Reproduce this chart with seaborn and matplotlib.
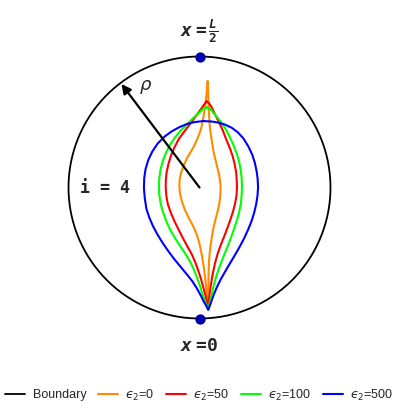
import numpy as np
import matplotlib
matplotlib.use("Agg")
import matplotlib.pyplot as plt
import seaborn as sns

# outlines (unit circle = boundary), going round: top -> left side -> tip -> right side -> top
eps_labels = [r"$ϵ_2$=0", r"$ϵ_2$=50", r"$ϵ_2$=100", r"$ϵ_2$=500"]
eps_colors = ["darkorange", "red", "lime", "blue"]

x_eps0 = [0.062, 0.058, 0.052, 0.045, 0.037, 0.025, 0.010, -0.015, -0.040, -0.065, -0.095, -0.120, -0.140,
          -0.151, -0.154, -0.149, -0.135, -0.111, -0.080, -0.047, -0.020, -0.001, 0.013, 0.024, 0.034, 0.042,
          0.049, 0.055, 0.061, 0.067,
          0.067, 0.067, 0.068, 0.068, 0.070, 0.073, 0.078, 0.085, 0.095, 0.106, 0.122, 0.139, 0.152, 0.159,
          0.161, 0.157, 0.149, 0.136, 0.122, 0.108, 0.098, 0.089, 0.080, 0.075, 0.072, 0.069, 0.067, 0.065, 0.062]
y_eps0 = [0.811, 0.760, 0.700, 0.640, 0.580, 0.510, 0.440, 0.375, 0.320, 0.275, 0.225, 0.170, 0.115,
          0.060, 0.010, -0.045, -0.105, -0.172, -0.235, -0.299, -0.362, -0.426, -0.490, -0.554, -0.618, -0.681,
          -0.745, -0.808, -0.870, -0.930,
          -0.870, -0.820, -0.760, -0.700, -0.630, -0.560, -0.500, -0.440, -0.375, -0.310, -0.245, -0.180, -0.120, -0.060,
          0.000, 0.050, 0.100, 0.155, 0.210, 0.270, 0.330, 0.390, 0.450, 0.515, 0.580, 0.640, 0.700, 0.760, 0.811]

x_eps50 = [0.055, 0.040, 0.017, -0.020, -0.065, -0.110, -0.158, -0.192, -0.218, -0.237, -0.251, -0.257, -0.258,
           -0.253, -0.242, -0.220, -0.193, -0.162, -0.130, -0.095, -0.060, -0.032, -0.009, 0.012, 0.029, 0.045,
           0.057, 0.067,
           0.070, 0.076, 0.084, 0.094, 0.106, 0.120, 0.138, 0.160, 0.186, 0.210, 0.233, 0.254, 0.271, 0.282, 0.286,
           0.284, 0.280, 0.268, 0.252, 0.230, 0.203, 0.178, 0.150, 0.120, 0.093, 0.072, 0.055]
y_eps50 = [0.658, 0.640, 0.607, 0.555, 0.495, 0.435, 0.370, 0.305, 0.243, 0.180, 0.116, 0.055, 0.000,
           -0.065, -0.126, -0.190, -0.253, -0.317, -0.380, -0.445, -0.508, -0.572, -0.635, -0.700, -0.762, -0.822,
           -0.877, -0.933,
           -0.877, -0.822, -0.762, -0.700, -0.635, -0.572, -0.508, -0.445, -0.380, -0.317, -0.253, -0.190, -0.126, -0.065, 0.000,
           0.055, 0.116, 0.180, 0.243, 0.305, 0.370, 0.435, 0.497, 0.555, 0.612, 0.645, 0.658]

x_eps100 = [0.055, 0.035, 0.015, -0.015, -0.047, -0.098, -0.149, -0.190, -0.225, -0.256, -0.281, -0.298, -0.307,
            -0.309, -0.307, -0.297, -0.281, -0.258, -0.231, -0.195, -0.154, -0.112, -0.073, -0.043, -0.017, 0.005,
            0.024, 0.045, 0.067,
            0.079, 0.093, 0.107, 0.124, 0.145, 0.169, 0.194, 0.220, 0.244, 0.266, 0.287, 0.304, 0.316, 0.322, 0.324,
            0.322, 0.314, 0.302, 0.282, 0.258, 0.228, 0.195, 0.158, 0.118, 0.090, 0.070, 0.055]
y_eps100 = [0.612, 0.605, 0.588, 0.560, 0.531, 0.480, 0.429, 0.378, 0.327, 0.265, 0.200, 0.135, 0.073,
            0.010, -0.055, -0.120, -0.182, -0.245, -0.309, -0.373, -0.437, -0.500, -0.563, -0.627, -0.691, -0.755,
            -0.818, -0.875, -0.933,
            -0.875, -0.818, -0.755, -0.691, -0.627, -0.563, -0.500, -0.437, -0.373, -0.309, -0.245, -0.182, -0.120, -0.055, 0.010,
            0.073, 0.135, 0.200, 0.265, 0.327, 0.392, 0.454, 0.508, 0.556, 0.590, 0.606, 0.612]

x_eps500 = [0.030, -0.035, -0.098, -0.155, -0.210, -0.265, -0.320, -0.360, -0.391, -0.412, -0.422, -0.424,
            -0.418, -0.405, -0.383, -0.355, -0.320, -0.280, -0.235, -0.190, -0.140, -0.095, -0.055, -0.020,
            0.010, 0.035, 0.055, 0.067,
            0.078, 0.093, 0.110, 0.131, 0.160, 0.195, 0.232, 0.271, 0.308, 0.342, 0.372, 0.398, 0.418, 0.433, 0.443,
            0.447, 0.444, 0.436, 0.422, 0.403, 0.372, 0.335, 0.292, 0.246, 0.195, 0.144, 0.090, 0.030]
y_eps500 = [0.507, 0.500, 0.484, 0.460, 0.430, 0.390, 0.335, 0.275, 0.210, 0.140, 0.070, -0.005,
            -0.080, -0.164, -0.230, -0.295, -0.360, -0.425, -0.490, -0.550, -0.610, -0.665, -0.715, -0.770,
            -0.825, -0.875, -0.910, -0.933,
            -0.905, -0.862, -0.815, -0.765, -0.705, -0.643, -0.580, -0.515, -0.450, -0.385, -0.320, -0.255, -0.190, -0.125, -0.060,
            0.000, 0.065, 0.125, 0.190, 0.250, 0.315, 0.375, 0.422, 0.456, 0.480, 0.495, 0.504, 0.507]

eps_x = [x_eps0, x_eps50, x_eps100, x_eps500]
eps_y = [y_eps0, y_eps50, y_eps100, y_eps500]

# end points of the domain (x = 0 at the bottom, x = L/2 on top)
pole_x = [0.0, 0.0]
pole_y = [1.0, -1.0]

sns.set_style("white")
plt.rcParams["mathtext.fontset"] = "dejavusans"
plt.rcParams["mathtext.rm"] = "DejaVu Sans Mono:bold"
plt.rcParams["mathtext.it"] = "DejaVu Sans Mono:italic:bold"
plt.rcParams["mathtext.bf"] = "DejaVu Sans Mono:bold"

fig = plt.figure(figsize=(3.99, 4.09), dpi=100)
ax = fig.add_axes([0, 0, 1, 1])

# boundary circle (start at the top so the joint hides under the dot)
t = np.linspace(0.5 * np.pi, 2.5 * np.pi, 400)
sns.lineplot(x=np.cos(t), y=np.sin(t), sort=False, estimator=None, color="black", lw=1.3,
             label="Boundary", ax=ax)

for xs, ys, c, lab in zip(eps_x, eps_y, eps_colors, eps_labels):
    sns.lineplot(x=xs, y=ys, sort=False, estimator=None, color=c, lw=1.5, label=lab, ax=ax)

sns.scatterplot(x=pole_x, y=pole_y, color="#0000aa", s=55, linewidth=0, zorder=5, ax=ax, legend=False)

# radius arrow
ang = np.deg2rad(127)
ax.annotate("", xy=(0.99 * np.cos(ang), 0.99 * np.sin(ang)), xytext=(0, 0),
            arrowprops=dict(arrowstyle="-|>", color="black", lw=1.6, mutation_scale=14,
                            shrinkA=0, shrinkB=0), zorder=6)
ax.text(-0.41, 0.77, r"$\rho$", fontsize=13, ha="center", va="center")

ax.text(-0.72, 0.0, "i = 4", family="DejaVu Sans Mono", weight="bold", fontsize=12,
        ha="center", va="center")
ax.text(0.0, 1.195, r"$x\,=\frac{L}{2}$", math_fontfamily="custom", fontsize=13,
        ha="center", va="center")
ax.text(0.0, -1.21, r"$x\,=\!\mathit{0}$", math_fontfamily="custom", fontsize=13,
        ha="center", va="center")

ax.set_xlim(-199.5 / 131, 199.5 / 131)
ax.set_ylim(-221.5 / 131, 187.5 / 131)
ax.axis("off")

ax.legend(loc="center", bbox_to_anchor=(0.5, 14 / 409), ncol=5, frameon=False,
          prop={"family": "Liberation Sans", "size": 9},
          handlelength=1.6, handletextpad=0.6, columnspacing=0.9, borderaxespad=0)

fig.savefig("out.png", dpi=100)
